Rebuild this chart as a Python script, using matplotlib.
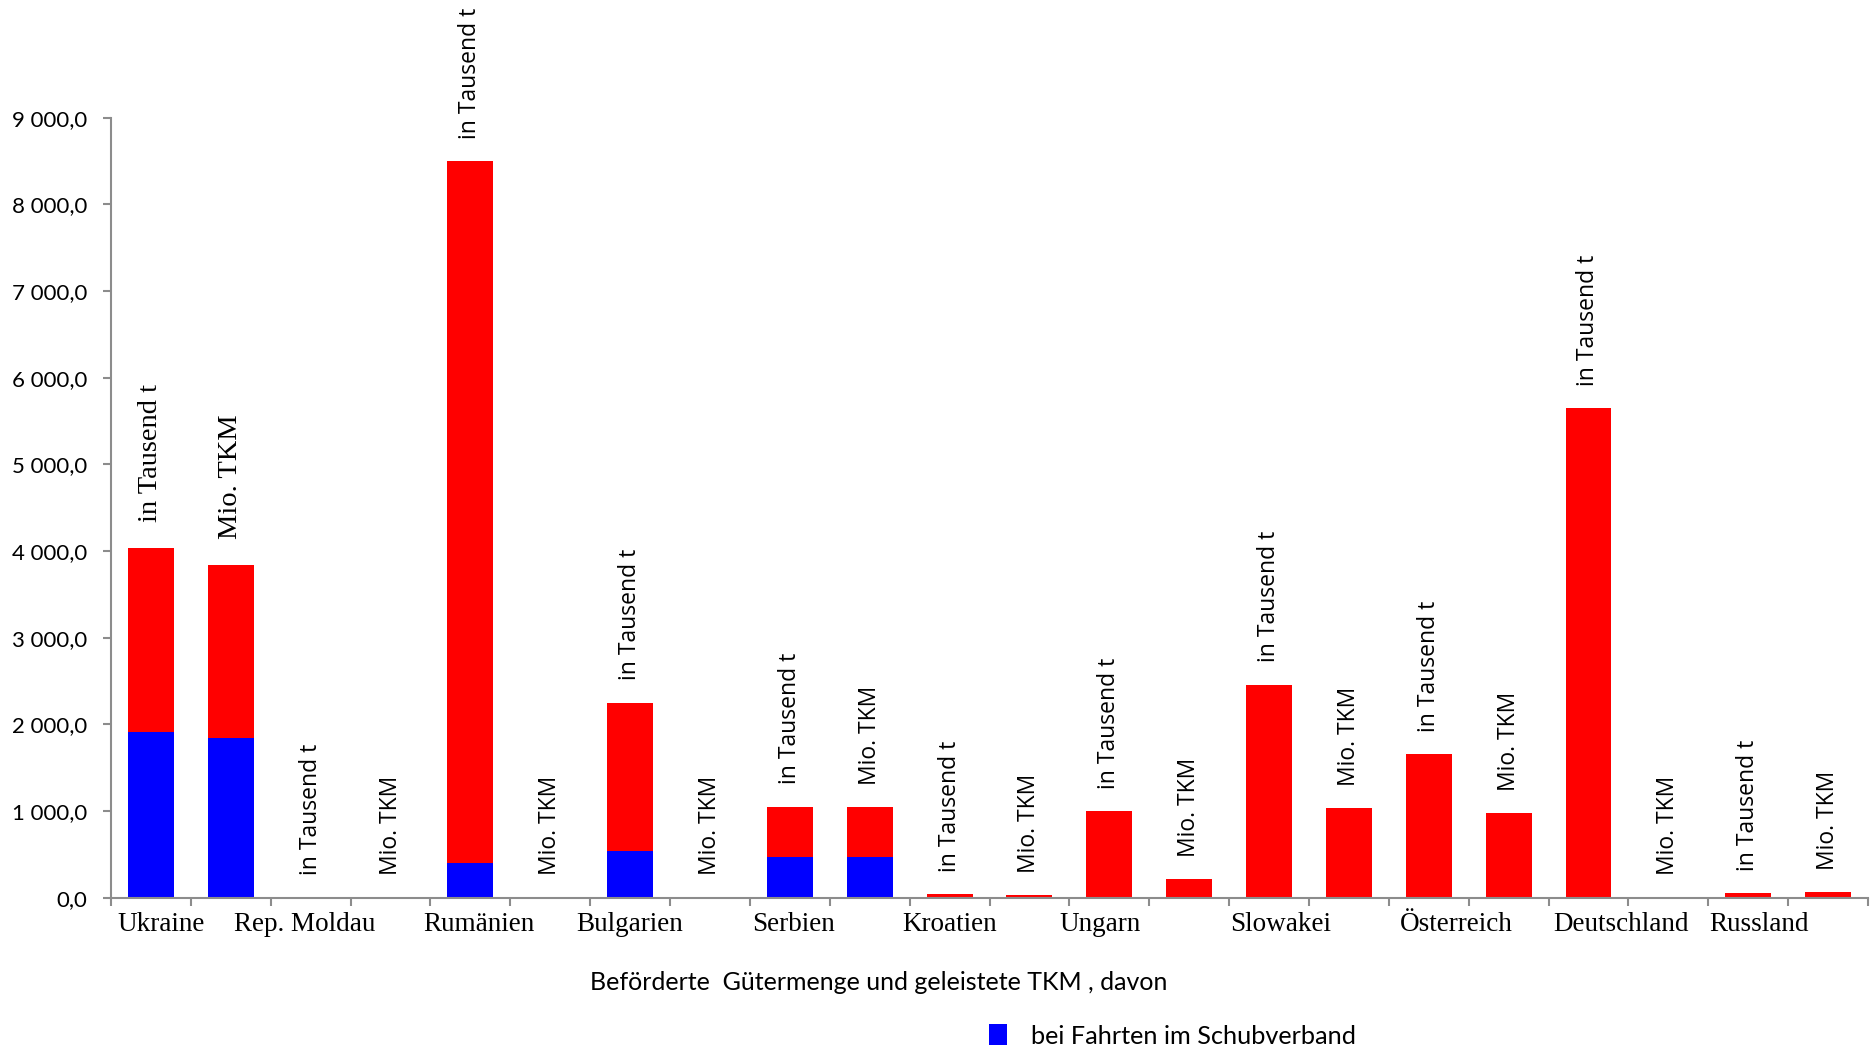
import numpy as np
import matplotlib.pyplot as plt
from matplotlib import transforms
from matplotlib.ticker import FuncFormatter, FixedLocator

countries = ['Ukraine', 'Rep. Moldau', 'Rumänien', 'Bulgarien', 'Serbien', 'Kroatien',
             'Ungarn', 'Slowakei', 'Österreich', 'Deutschland', 'Russland']
units = ['in Tausend t', 'Mio. TKM']

# Gesamtwerte je Land: Gütermenge (Tausend t) und Leistung (Mio. TKM)
total_t = [4030, 0, 8500, 2250, 1050, 40, 1000, 2460, 1655, 5647, 54]
total_tkm = [3835, 0, 0, 0, 1048, 33, 212, 1030, 977, 0, 66]
# davon bei Fahrten im Schubverband
schub_t = [1915, 0, 405, 540, 473, 0, 0, 0, 0, 0, 0]
schub_tkm = [1846, 0, 0, 0, 473, 0, 0, 0, 0, 0, 0]

yticks = [0, 1000, 2000, 3000, 4000, 5000, 6000, 7000, 8000, 9000]

# horizontal shift of the country names (in category units)
name_shift = [0.13, -0.08, 0.11, 0.0, 0.04, 0.0, -0.11, 0.14, 0.35, 0.41, 0.14]

total = np.column_stack([total_t, total_tkm]).ravel()
schub = np.column_stack([schub_t, schub_tkm]).ravel()
rest = total - schub
bar_units = units * len(countries)
x = np.arange(len(total))

fig = plt.figure(figsize=(18.71, 10.51), dpi=100)
ax = fig.add_axes([111 / 1871, 1 - 897.7 / 1051, (1868 - 111) / 1871, 780 / 1051])

blue = ax.bar(x, schub, width=0.575, color='#0000FF', label='bei Fahrten im Schubverband')
ax.bar(x, rest, width=0.575, bottom=schub, color='#FF0000')

ax.set_xlim(-0.5, len(total) - 0.5)
ax.set_ylim(0, 9000)

for s in ['top', 'right']:
    ax.spines[s].set_visible(False)
for s in ['left', 'bottom']:
    ax.spines[s].set_color('#8c8c8c')
    ax.spines[s].set_linewidth(1.5)

ax.yaxis.set_major_locator(FixedLocator(yticks))
ax.yaxis.set_major_formatter(FuncFormatter(
    lambda v, p: f'{v:,.1f}'.replace(',', ' ').replace('.', ',')))
ax.tick_params(axis='y', direction='out', length=6, width=1.5, color='#8c8c8c',
               pad=11, labelsize=16)
for lab in ax.get_yticklabels():
    lab.set_family('Lato')

ax.set_xticks([])
ax.set_xticks(np.arange(-0.5, len(total)), minor=True)
ax.tick_params(axis='x', which='minor', direction='out', length=6, width=1.5,
               color='#8c8c8c')

trans = transforms.blended_transform_factory(ax.transData, ax.transAxes)
for i, name in enumerate(countries):
    ax.annotate(name, xy=(2 * i + name_shift[i], 0), xycoords=trans,
                xytext=(0, -10), textcoords='offset points', ha='center', va='top',
                fontsize=19.5, family='Liberation Serif')

# rotated unit labels above every bar
for xi, h, u in zip(x, total, bar_units):
    if xi < 2:
        fam, size, off = 'Liberation Serif', 20.5, 19
    else:
        fam, size, off = 'Open Sans', 16.5, 16
    ax.annotate(u, xy=(xi, h), xytext=(0, off), textcoords='offset points',
                rotation=90, ha='center', va='bottom', fontsize=size,
                family=fam, annotation_clip=False)

fig.text(879 / 1871, 1 - 982 / 1051, 'Beförderte  Gütermenge und geleistete TKM , davon',
         ha='center', va='center', fontsize=18, family='Lato')

fig.legend(handles=[blue], loc='center left', bbox_to_anchor=(989 / 1871, 1 - 1036 / 1051),
           frameon=False, borderpad=0, borderaxespad=0, handlelength=0.7,
           handleheight=0.9, handletextpad=0.95, prop={'family': 'Lato', 'size': 18.2})

fig.savefig('out.png', dpi=100)
